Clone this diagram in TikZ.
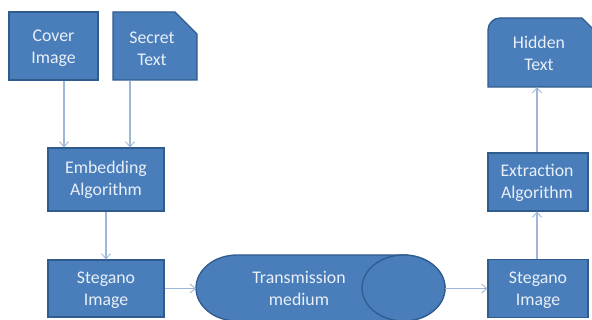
\documentclass[tikz,border=0pt]{standalone}
\usepackage{fontspec}
\setmainfont{Carlito}
\usetikzlibrary{arrows.meta,shapes.misc}
\definecolor{boxfill}{HTML}{4A7EBB}
\definecolor{boxline}{HTML}{2F5B8E}
\definecolor{linkline}{HTML}{9DB7D8}
\definecolor{labeltext}{HTML}{E8EFF8}
\newcommand{\twolines}[3]{\rule{0pt}{#1pt}\smash{#2}\\\smash{#3}}
\tikzset{
  lbl/.style={text=labeltext,font=\fontsize{17.8}{22}\selectfont,align=center,inner sep=0pt},
  boxshape/.style={draw=boxline,fill=boxfill,line width=1.3pt},
  plainbox/.style={boxshape,lbl,rectangle,anchor=center},
  link/.style={draw=linkline,line width=1.1pt,-{Straight Barb[length=5pt,width=9pt,line width=0.9pt]}}
}
\begin{document}
\begin{tikzpicture}[x=1pt,y=-1pt]
\useasboundingbox (0,0) rectangle (592,320);
\clip (0,0) rectangle (592,320);
\fill[white] (0,0) rectangle (592,320);
% boxes
\node[plainbox,minimum width=89pt,minimum height=68pt] (cover) at (53.5,46) {\twolines{14}{Cover}{Image}};
\node[boxshape,lbl,chamfered rectangle,chamfered rectangle corners=north east,chamfered rectangle xsep=11pt,chamfered rectangle ysep=11pt,minimum width=84pt,minimum height=68pt] (secret) at (155,46) {\twolines{18}{\kern-6pt Secret}{\kern-6pt Text}};
\node[plainbox,minimum width=116pt,minimum height=63pt] (embed) at (106,179.5) {\twolines{11}{Embedding}{Algorithm}};
\node[plainbox,minimum width=116pt,minimum height=57pt] (stegoL) at (106,288.5) {\twolines{13}{Stegano}{Image}};
\node[plainbox,minimum width=100pt,minimum height=58pt] (stegoR) at (538,288.5) {\twolines{13}{Stegano}{Image}};
\node[plainbox,minimum width=100pt,minimum height=58pt] (extract) at (538,182) {\twolines{11.5}{\kern-2pt Extraction}{\kern-2pt Algorithm}};
% hidden text
\draw[boxshape] (488,87) -- (488,30) .. controls (488,23.4) and (493.4,18) .. (500,18) -- (582,18) -- (594,30) -- (594,87) -- cycle;
\node[lbl,minimum width=106pt,minimum height=69pt] (hidden) at (539,52.5) {\twolines{15}{Hidden}{Text}};
% transmission medium
\draw[boxshape] (237,255) -- (403.5,255) .. controls (426.4,255) and (445,269.8) .. (445,288) .. controls (445,306.2) and (426.4,321) .. (403.5,321) -- (237,321) .. controls (214.4,321) and (196,306.2) .. (196,288) .. controls (196,269.8) and (214.4,255) .. (237,255) -- cycle;
\draw[boxshape] (403.5,288) ellipse[x radius=41.5,y radius=33];
\node[lbl,minimum width=249pt,minimum height=67pt] (medium) at (320.5,288.5) {};
\node[lbl] (mediumtext) at (299,288.5) {\twolines{13}{Transmission}{medium}};
% connectors
\draw[link] ([xshift=10.5pt]cover.south) -- ([xshift=-42pt]embed.north);
\draw[link] ([xshift=-25pt]secret.south) -- ([xshift=24pt]embed.north);
\draw[link] (embed.south) -- (stegoL.north);
\draw[link] (stegoL.east) -- (medium.west);
\draw[link] (medium.east) -- (stegoR.west);
\draw[link] ([xshift=-1pt]stegoR.north) -- ([xshift=-1pt]extract.south);
\draw[link] ([xshift=-1pt]extract.north) -- ([xshift=-2pt]hidden.south);
\end{tikzpicture}
\end{document}
